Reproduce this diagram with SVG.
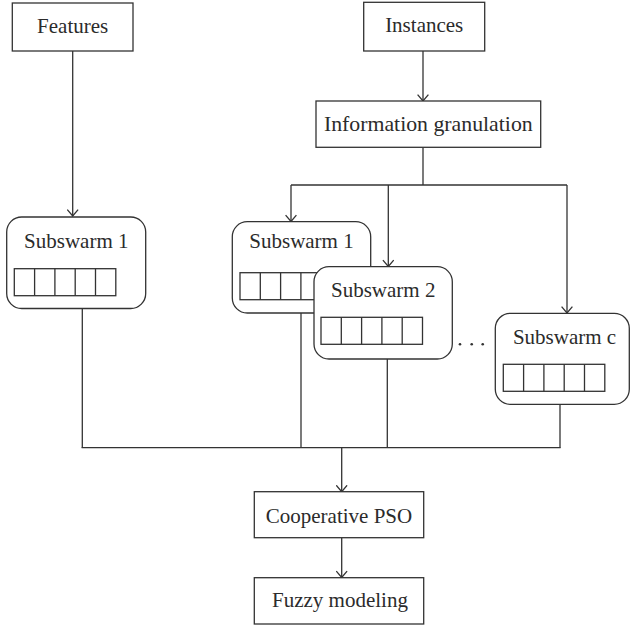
<svg xmlns="http://www.w3.org/2000/svg" width="630" height="627" viewBox="0 0 630 627">
  <defs>
    <marker id="arrow" viewBox="0 0 8 12" refX="7.2" refY="6" markerWidth="8" markerHeight="12" markerUnits="userSpaceOnUse" orient="auto">
      <path d="M0.8,0.6 L7.2,6 L0.8,11.4" fill="none" stroke="#333" stroke-width="1.3"/>
    </marker>
    <!-- five-cell particle vector shown inside each subswarm -->
    <g id="cells">
      <rect x="0" y="0" width="101.5" height="27" fill="#fff" stroke="#333" stroke-width="1.3"/>
      <path d="M20.3,0 V27 M40.6,0 V27 M60.9,0 V27 M81.2,0 V27" stroke="#333" stroke-width="1.3"/>
    </g>
  </defs>
  <style>
    .box { fill: #fff; stroke: #333; stroke-width: 1.3; }
    .lbl { font-family: "Liberation Serif", "Times New Roman", serif; font-size: 21px; fill: #2b2b2b; text-anchor: middle; }
    .wire { fill: none; stroke: #333; stroke-width: 1.3; }
    .arr { fill: none; stroke: #333; stroke-width: 1.3; marker-end: url(#arrow); }
  </style>
  <rect width="630" height="627" fill="#fff"/>

  <!-- connectors -->
  <g id="connectors">
    <line class="arr" x1="72.7" y1="51" x2="72.7" y2="216"/>
    <line class="arr" x1="423" y1="51" x2="423" y2="101"/>
    <polyline class="wire" points="423,147.3 423,185"/>
    <line class="wire" x1="291" y1="185" x2="567" y2="185"/>
    <line class="arr" x1="291" y1="185" x2="291" y2="221.5"/>
    <line class="arr" x1="388.3" y1="185" x2="388.3" y2="266.5"/>
    <line class="arr" x1="567" y1="185" x2="567" y2="313"/>
    <line class="wire" x1="82.3" y1="308.5" x2="82.3" y2="447.7"/>
    <line class="wire" x1="301" y1="313" x2="301" y2="447.7"/>
    <line class="wire" x1="387.3" y1="359" x2="387.3" y2="447.7"/>
    <line class="wire" x1="560" y1="404.3" x2="560" y2="447.7"/>
    <line class="wire" x1="81.6" y1="447.7" x2="560.6" y2="447.7"/>
    <line class="arr" x1="341.7" y1="447.7" x2="341.7" y2="491.7"/>
    <line class="arr" x1="341.7" y1="537.7" x2="341.7" y2="577.5"/>
  </g>

  <g id="features">
    <rect class="box" x="12.3" y="3" width="120.7" height="48"/>
    <text class="lbl" x="72.7" y="33.3">Features</text>
  </g>

  <g id="instances">
    <rect class="box" x="363.7" y="2.3" width="121" height="48.7"/>
    <text class="lbl" x="424.2" y="32">Instances</text>
  </g>

  <g id="info-granulation">
    <rect class="box" x="316" y="101" width="224.7" height="46.3"/>
    <text class="lbl" x="428.3" y="130.7" style="font-size:21.8px">Information granulation</text>
  </g>

  <g id="subswarm-features">
    <rect class="box" x="6.7" y="217" width="139" height="91.5" rx="15"/>
    <text class="lbl" x="76.3" y="248.3">Subswarm 1</text>
    <use href="#cells" x="14.3" y="268.7"/>
  </g>

  <g id="subswarm-1">
    <rect class="box" x="232.3" y="221.7" width="138.4" height="91.3" rx="15"/>
    <text class="lbl" x="301.5" y="248.3">Subswarm 1</text>
    <use href="#cells" x="240" y="272.7"/>
  </g>

  <g id="subswarm-2">
    <rect class="box" x="314" y="266.7" width="138.3" height="92.3" rx="15"/>
    <text class="lbl" x="383.2" y="296.7">Subswarm 2</text>
    <use href="#cells" x="321" y="317.3"/>
  </g>

  <g id="ellipsis">
    <circle cx="460" cy="344.3" r="1.3" fill="#333"/>
    <circle cx="471.7" cy="344.3" r="1.3" fill="#333"/>
    <circle cx="482.7" cy="344.3" r="1.3" fill="#333"/>
  </g>

  <g id="subswarm-c">
    <rect class="box" x="495.3" y="313.3" width="134" height="91" rx="15"/>
    <text class="lbl" x="564.5" y="344.3">Subswarm c</text>
    <use href="#cells" x="503.3" y="364.3"/>
  </g>

  <g id="cooperative-pso">
    <rect class="box" x="254.3" y="491.7" width="169.4" height="46"/>
    <text class="lbl" x="339" y="522.7">Cooperative PSO</text>
  </g>

  <g id="fuzzy-modeling">
    <rect class="box" x="254.3" y="577.7" width="169.4" height="46.3"/>
    <text class="lbl" x="340" y="606.7">Fuzzy modeling</text>
  </g>
</svg>
